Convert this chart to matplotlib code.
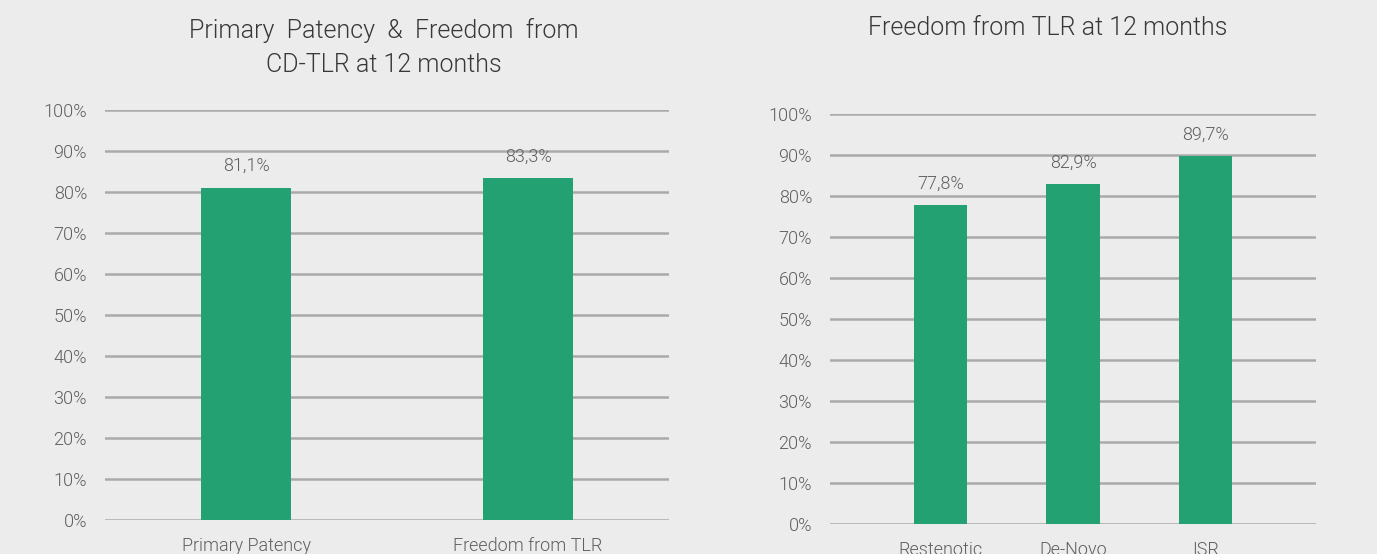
import matplotlib
matplotlib.use("Agg")
import matplotlib.pyplot as plt
from matplotlib.ticker import FuncFormatter

# Data
left_title = "Primary  Patency  &  Freedom  from\nCD-TLR at 12 months"
left_categories = ["Primary Patency", "Freedom from TLR"]
left_values = [81.1, 83.3]
left_labels = ["81,1%", "83,3%"]

right_title = "Freedom from TLR at 12 months"
right_categories = ["Restenotic", "De-Novo", "ISR"]
right_values = [77.8, 82.9, 89.7]
right_labels = ["77,8%", "82,9%", "89,7%"]

y_ticks = [0, 10, 20, 30, 40, 50, 60, 70, 80, 90, 100]

BG = "#ebeceb"
BAR = "#23a173"
GRID = "#aaaaaa"
TXT = "#5f5f5f"
TITLE = "#383838"
W = 300

plt.rcParams['font.family'] = ['Roboto', 'DejaVu Sans']

fig = plt.figure(figsize=(13.77, 5.54), dpi=100, facecolor=BG)

def draw(ax, cats, vals, labels, width, xlim):
    ax.set_facecolor(BG)
    x = list(range(len(cats)))
    ax.set_ylim(0, 100)
    ax.set_xlim(*xlim)
    ax.set_yticks(y_ticks)
    ax.yaxis.set_major_formatter(FuncFormatter(lambda v, p: f"{int(v)}%"))
    for t in y_ticks:
        ax.axhline(t, color=GRID, lw=1.8, zorder=1)
    ax.bar(x, vals, width=width, color=BAR, zorder=2)
    for xi, v, lab in zip(x, vals, labels):
        ax.annotate(lab, (xi, v), xytext=(0, 9), textcoords="offset points",
                    ha="center", va="bottom", fontsize=13, color=TXT,
                    fontweight=W)
    ax.set_xticks(x)
    ax.set_xticklabels(cats)
    for s in ax.spines.values():
        s.set_visible(False)
    ax.tick_params(axis="both", length=0, colors=TXT, labelsize=13)
    ax.tick_params(axis="y", pad=13)
    ax.tick_params(axis="x", pad=12)
    for lab in ax.get_xticklabels() + ax.get_yticklabels():
        lab.set_fontweight(W)

ax1 = fig.add_axes([0.0763, 0.0614, 0.4096, 0.740])
draw(ax1, left_categories, left_values, left_labels, 0.32, (-0.5, 1.5))
fig.text(0.2790, 0.968, left_title, ha="center", va="top", fontsize=18,
         color=TITLE, fontweight=W, linespacing=1.55)

ax2 = fig.add_axes([0.6028, 0.0542, 0.3529, 0.740])
draw(ax2, right_categories, right_values, right_labels, 0.40, (-0.83, 2.83))
fig.text(0.7611, 0.972, right_title, ha="center", va="top", fontsize=18,
         color=TITLE, fontweight=W)

fig.savefig("out.png", dpi=100, facecolor=BG)
